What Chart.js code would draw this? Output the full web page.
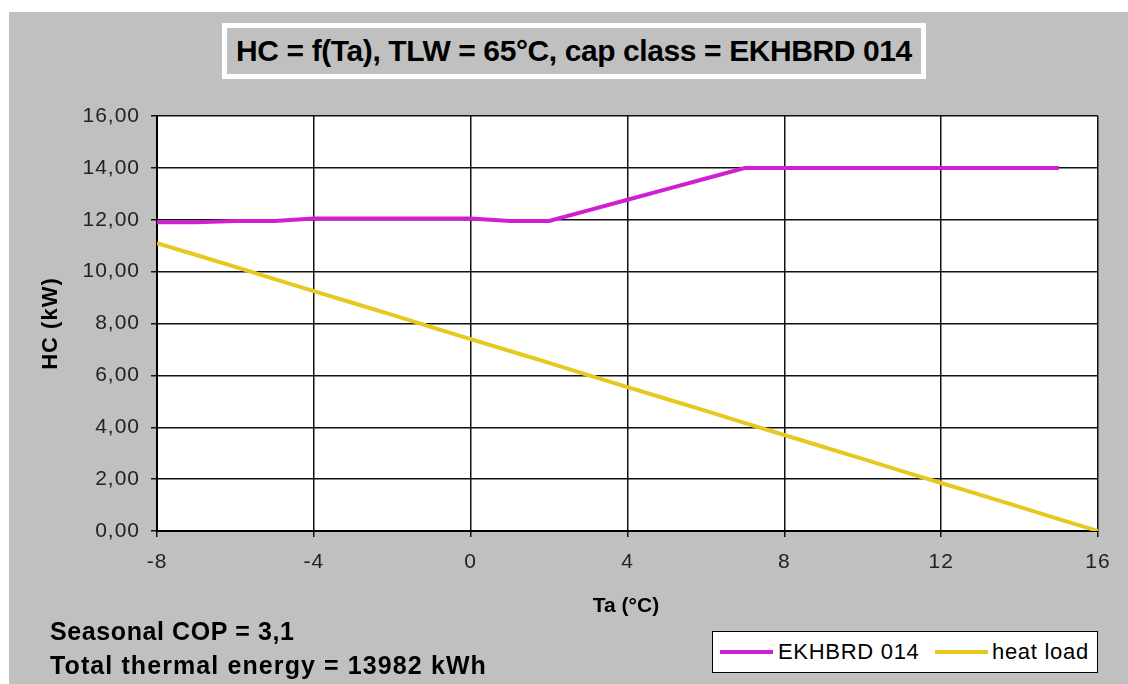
<!DOCTYPE html>
<html>
<head>
<meta charset="utf-8">
<script src="https://cdn.jsdelivr.net/npm/chart.js@4.4.1/dist/chart.umd.min.js"></script>
<style>
  html, body { margin: 0; padding: 0; background: #ffffff; }
  #wrap { position: relative; width: 1128px; height: 684px; overflow: hidden; }
  #bg { position: absolute; left: 9px; top: 12px; right: 0; bottom: 0; background: #c0c0c0; }
  #chart { position: absolute; left: 0; top: 0; }
  .txt { position: absolute; font-family: "Liberation Sans", Arial, sans-serif; color: #000; white-space: nowrap; }
  #title { left: 222px; top: 23px; width: 694px; height: 46px; border: 5px solid #ffffff; background: #c0c0c0;
           font-weight: bold; font-size: 30px; line-height: 46px; text-align: center; letter-spacing: -0.4px; }
  #xtitle { left: 566px; top: 593px; width: 120px; text-align: center; font-weight: bold; font-size: 21px; }
  #note1 { left: 50px; top: 617px; font-weight: bold; font-size: 25px; letter-spacing: 0.6px; }
  #note2 { left: 50px; top: 651px; font-weight: bold; font-size: 25px; letter-spacing: 1.1px; }
  #legend { left: 712px; top: 631px; width: 384px; height: 40px; border: 1px solid #000; background: #fff;
            font-size: 22px; line-height: 40px; letter-spacing: 0.7px; }
  .sw { position: absolute; top: 18px; width: 53px; height: 4px; }
  .lt { position: absolute; top: 0; }
</style>
</head>
<body>
<div id="wrap">
  <div id="bg"></div>
  <canvas id="chart" width="1128" height="684"></canvas>
  <div id="title" class="txt">HC = f(Ta), TLW = 65°C, cap class = EKHBRD 014</div>
  <div id="xtitle" class="txt">Ta (°C)</div>
  <div id="note1" class="txt">Seasonal COP = 3,1</div>
  <div id="note2" class="txt">Total thermal energy = 13982 kWh</div>
  <div id="legend" class="txt">
    <div class="sw" style="left:7px;background:#d21ed2"></div>
    <div class="lt" style="left:65px">EKHBRD 014</div>
    <div class="sw" style="left:222px;background:#e6c81e"></div>
    <div class="lt" style="left:279px">heat load</div>
  </div>
</div>
<script>
// ---- data ----
const taValues = [-8, -7, -6, -5, -4, -3, -2, -1, 0, 1, 2, 3, 4, 5, 6, 7, 8, 9, 10, 11, 12, 13, 14, 15, 16];
const hcUnitTa = [-8, -7, -6, -5, -4, -3, -2, -1, 0, 1, 2, 3, 4, 5, 6, 7, 8, 9, 10, 11, 12, 13, 14, 15];
const hcUnit = [11.9, 11.9, 11.95, 11.95, 12.05, 12.05, 12.05, 12.05, 12.05, 11.95, 11.95, 12.36, 12.77, 13.18, 13.59, 14.0, 14.0, 14.0, 14.0, 14.0, 14.0, 14.0, 14.0, 14.0];
const heatLoad = [11.10, 10.64, 10.18, 9.71, 9.25, 8.79, 8.33, 7.86, 7.40, 6.94, 6.48, 6.01, 5.55, 5.09, 4.63, 4.16, 3.70, 3.24, 2.78, 2.31, 1.85, 1.39, 0.93, 0.46, 0.00];
const seriesNames = ["EKHBRD 014", "heat load"];
const xTicks = [-8, -4, 0, 4, 8, 12, 16];
const yTicks = [0, 2, 4, 6, 8, 10, 12, 14, 16];
const yTitle = "HC (kW)";

const plotBg = {
  id: 'plotBg',
  beforeDraw(chart) {
    const {ctx, chartArea: a} = chart;
    ctx.save();
    ctx.fillStyle = '#ffffff';
    ctx.fillRect(a.left, a.top, a.right - a.left, a.bottom - a.top);
    ctx.restore();
    if ('letterSpacing' in ctx) ctx.letterSpacing = '1px';
  },
  afterDraw(chart) {
    if ('letterSpacing' in chart.ctx) chart.ctx.letterSpacing = '0px';
  }
};

const tickFont = { family: "'Liberation Sans', Arial, sans-serif", size: 21 };

new Chart(document.getElementById('chart'), {
  type: 'line',
  data: {
    datasets: [
      { label: seriesNames[0], data: hcUnitTa.map((t, i) => ({x: t, y: hcUnit[i]})),
        borderColor: '#d21ed2', borderWidth: 4, pointRadius: 0, tension: 0 },
      { label: seriesNames[1], data: taValues.map((t, i) => ({x: t, y: heatLoad[i]})),
        borderColor: '#e6c81e', borderWidth: 4, pointRadius: 0, tension: 0 }
    ]
  },
  plugins: [plotBg],
  options: {
    responsive: false,
    animation: false,
    events: [],
    layout: { padding: { left: 0, top: 116, right: 30, bottom: 0 } },
    plugins: { legend: { display: false }, title: { display: false }, tooltip: { enabled: false } },
    scales: {
      x: {
        type: 'linear', min: xTicks[0], max: xTicks[xTicks.length - 1],
        afterBuildTicks: s => { s.ticks = xTicks.map(v => ({value: v})); },
        afterFit: s => { s.height = 153; },
        grid: { color: '#111', lineWidth: 1.5, tickLength: 6, drawTicks: true },
        border: { color: '#000', width: 2 },
        ticks: { color: '#222', padding: 13, font: tickFont, maxRotation: 0 }
      },
      y: {
        min: yTicks[0], max: yTicks[yTicks.length - 1],
        afterBuildTicks: s => { s.ticks = yTicks.map(v => ({value: v})); },
        afterFit: s => { s.width = 157; },
        grid: { color: '#111', lineWidth: 1.5, tickLength: 6, drawTicks: true },
        border: { color: '#000', width: 2 },
        ticks: { color: '#222', padding: 11, font: tickFont,
                 callback: v => v.toFixed(2).replace('.', ',') },
        title: { display: true, text: yTitle, color: '#000', padding: { top: 38, bottom: 0 },
                 font: { family: 'Liberation Sans', size: 22, weight: 'bold' } }
      }
    }
  }
});
</script>
</body>
</html>
